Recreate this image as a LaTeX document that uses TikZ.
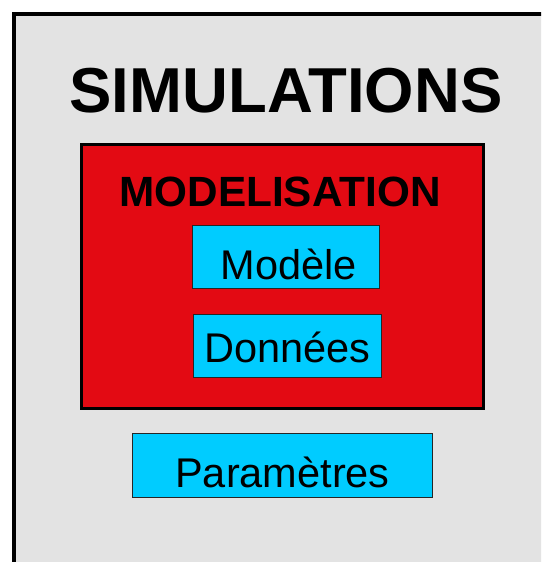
\documentclass[tikz,border=0pt]{standalone}
\usepackage{fontspec}
\setmainfont{Liberation Sans}
\definecolor{simgray}{HTML}{E3E3E3}
\definecolor{modred}{HTML}{E30A13}
\definecolor{boxcyan}{HTML}{00CCFF}
\tikzset{
  databox/.style={draw=black!85,line width=1pt,fill=boxcyan,inner sep=0pt,
    font=\fontsize{41.5}{41.5}\selectfont},
}

\begin{document}
\begin{tikzpicture}[x=1pt,y=-1pt]
  \useasboundingbox (0,0) rectangle (541,562);
  \clip (0,0) rectangle (541,562);
  \draw[line width=4pt,fill=simgray] (14,14) rectangle (600,620);
  \node[anchor=base,font=\bfseries\fontsize{63.5}{63.5}\selectfont] (sim) at (286,112) {SIMULATIONS};
  \node[draw,line width=3pt,fill=modred,inner sep=0pt,
    minimum width=402pt,minimum height=264pt] (modl) at (282.5,276) {};
  \node[anchor=base,font=\bfseries\fontsize{42.3}{42.3}\selectfont] (modtitle) at (280,206) {MODELISATION};
  \node[databox,minimum width=187pt,text height=54pt,text depth=9pt] (modele) at (286,256.5) {\hspace*{6pt}Modèle};
  \node[databox,minimum width=188pt,text height=48pt,text depth=15pt] (donnees) at (287.5,345.5) {Données};
  \node[databox,minimum width=300pt,text height=54pt,text depth=10pt] (params) at (282.5,465) {Paramètres};
\end{tikzpicture}
\end{document}
